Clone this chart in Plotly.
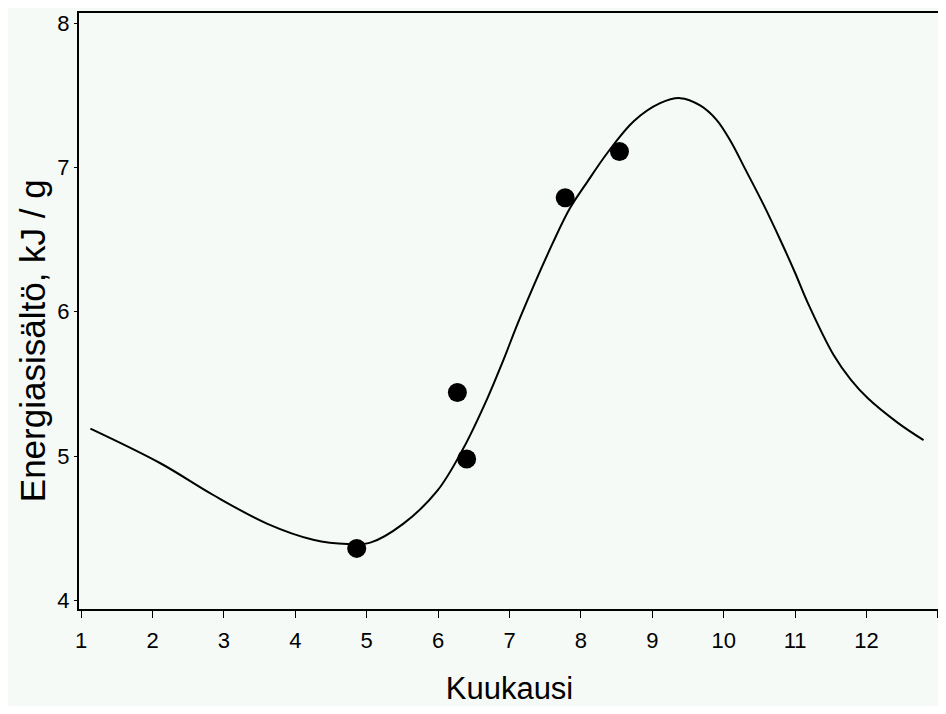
import plotly.graph_objects as go

# Observed data points
month = [4.86, 6.27, 6.40, 7.78, 8.54]
energy = [4.36, 5.44, 4.98, 6.79, 7.11]

# Fitted curve
curve_month = [1.13, 2.11, 2.85, 3.61, 4.25, 4.73, 5.05, 5.51, 5.99, 6.35, 6.69,
               6.91, 7.15, 7.61, 7.85, 8.09, 8.37, 8.74, 9.11, 9.39, 9.67,
               9.90, 10.10, 10.30, 10.56, 10.80, 11.00, 11.17, 11.54, 11.78,
               12.02, 12.44, 12.80]
curve_energy = [5.19, 4.95, 4.73, 4.53, 4.42, 4.39, 4.40, 4.53, 4.76, 5.05, 5.40,
                5.66, 5.96, 6.48, 6.72, 6.90, 7.10, 7.32, 7.445, 7.48, 7.43,
                7.33, 7.18, 6.99, 6.74, 6.49, 6.27, 6.07, 5.70, 5.53,
                5.40, 5.23, 5.11]

x_ticks = list(range(1, 14))
x_ticktext = [str(v) for v in range(1, 13)] + [""]
y_ticks = [4, 5, 6, 7, 8]

BG = "#F5FAF7"

fig = go.Figure()
fig.add_trace(go.Scatter(
    x=curve_month, y=curve_energy, mode="lines",
    line=dict(color="black", width=2, shape="spline", smoothing=1.0),
    hoverinfo="skip", showlegend=False))
fig.add_trace(go.Scatter(
    x=month, y=energy, mode="markers",
    marker=dict(color="black", size=19),
    showlegend=False))

font_family = "Liberation Sans, Arial, sans-serif"

fig.update_layout(
    width=938, height=698,
    margin=dict(l=71, r=6, t=5, b=97),
    paper_bgcolor=BG,
    plot_bgcolor=BG,
    font=dict(family=font_family, color="black"),
    xaxis=dict(
        range=[0.97, 13.03], tickvals=x_ticks, ticktext=x_ticktext,
        ticks="outside", ticklen=7, tickwidth=1, tickcolor="black",
        showline=True, linecolor="black", linewidth=2, mirror=True,
        showgrid=False, zeroline=False, automargin=False,
        ticklabelstandoff=4,
        tickfont=dict(size=22, family=font_family),
        title=dict(text="Kuukausi", font=dict(size=31, family=font_family), standoff=28),
    ),
    yaxis=dict(
        range=[3.94, 8.07], tickvals=y_ticks,
        ticks="outside", ticklen=3, tickwidth=1, tickcolor="black",
        showline=True, linecolor="black", linewidth=2, mirror=True,
        showgrid=False, zeroline=False, automargin=False,
        tickfont=dict(size=22, family=font_family),
    ),
    annotations=[dict(
        text="Energiasisältö, kJ / g", xref="paper", yref="paper",
        x=-0.0546, y=0.451, xanchor="center", yanchor="middle",
        textangle=-90, showarrow=False,
        font=dict(size=35, family=font_family, color="black"))],
)

fig.write_html("out.html")
